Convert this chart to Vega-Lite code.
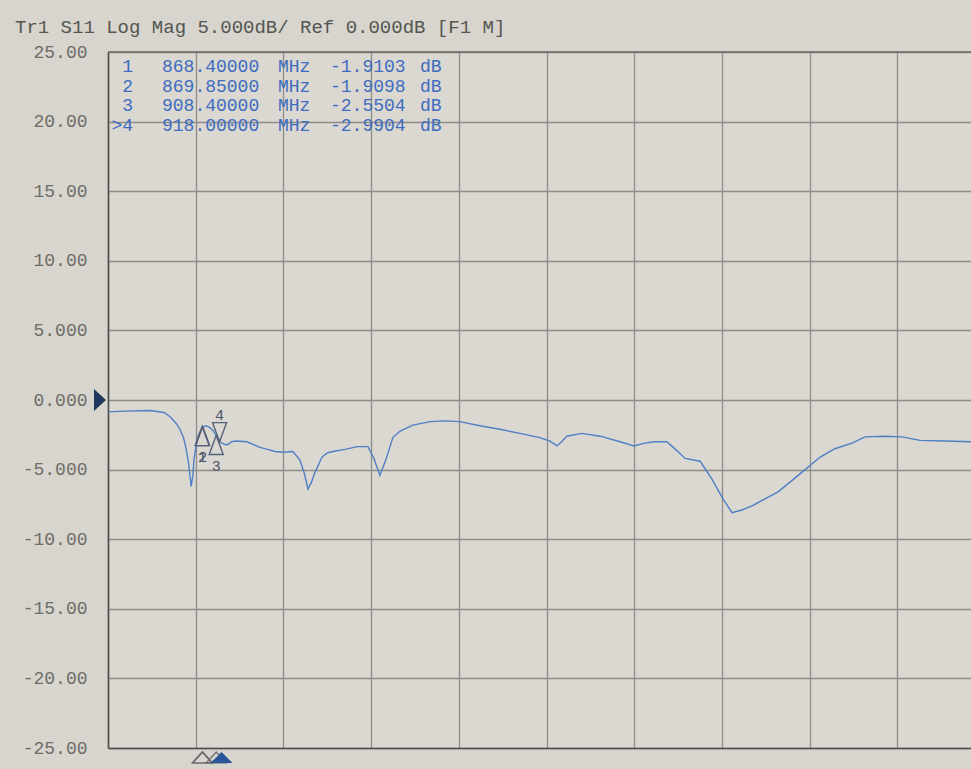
{
  "$schema": "https://vega.github.io/schema/vega-lite/v6.json",
  "width": 863,
  "height": 696,
  "autosize": "none",
  "padding": {"left": 108, "top": 52, "right": 0, "bottom": 21},
  "background": "#d7d5cd",
  "view": {"stroke": null, "fill": "#dad8d0"},
  "title": {
    "text": "Tr1 S11 Log Mag 5.000dB/ Ref 0.000dB [F1 M]",
    "anchor": "start",
    "frame": "group",
    "dx": -93,
    "offset": -9,
    "baseline": "alphabetic",
    "font": "Liberation Mono",
    "fontSize": 19,
    "fontWeight": "normal",
    "color": "#555552"
  },
  "datasets": {
    "trace": [
      {"f": 600, "db": -0.85}, {"f": 650, "db": -0.8}, {"f": 720, "db": -0.75}, {"f": 760, "db": -0.9},
      {"f": 777, "db": -1.2}, {"f": 795, "db": -1.7}, {"f": 805, "db": -2.1}, {"f": 815, "db": -2.7},
      {"f": 822, "db": -3.4}, {"f": 830, "db": -4.6}, {"f": 837, "db": -6.2}, {"f": 842, "db": -5.4},
      {"f": 845, "db": -4.3}, {"f": 851, "db": -3.3}, {"f": 857, "db": -2.6}, {"f": 864, "db": -2.2},
      {"f": 871, "db": -1.95}, {"f": 880, "db": -1.85}, {"f": 891, "db": -2.0}, {"f": 900, "db": -2.2},
      {"f": 908, "db": -2.55}, {"f": 918, "db": -2.99}, {"f": 925, "db": -3.1}, {"f": 933, "db": -3.2},
      {"f": 942, "db": -3.2}, {"f": 952, "db": -3.0}, {"f": 965, "db": -2.95}, {"f": 996, "db": -3.0},
      {"f": 1015, "db": -3.2}, {"f": 1033, "db": -3.4}, {"f": 1055, "db": -3.55}, {"f": 1076, "db": -3.7},
      {"f": 1100, "db": -3.75}, {"f": 1127, "db": -3.7}, {"f": 1147, "db": -4.3}, {"f": 1160, "db": -5.3},
      {"f": 1170, "db": -6.4}, {"f": 1180, "db": -5.9}, {"f": 1190, "db": -5.2}, {"f": 1210, "db": -4.1},
      {"f": 1225, "db": -3.8}, {"f": 1241, "db": -3.7}, {"f": 1276, "db": -3.55}, {"f": 1310, "db": -3.35},
      {"f": 1341, "db": -3.35}, {"f": 1358, "db": -4.2}, {"f": 1375, "db": -5.4}, {"f": 1392, "db": -4.3},
      {"f": 1412, "db": -2.7}, {"f": 1432, "db": -2.25}, {"f": 1469, "db": -1.8}, {"f": 1518, "db": -1.55},
      {"f": 1560, "db": -1.5}, {"f": 1603, "db": -1.55}, {"f": 1660, "db": -1.85}, {"f": 1717, "db": -2.1},
      {"f": 1774, "db": -2.4}, {"f": 1831, "db": -2.7}, {"f": 1860, "db": -2.95}, {"f": 1880, "db": -3.3},
      {"f": 1895, "db": -2.95}, {"f": 1908, "db": -2.6}, {"f": 1951, "db": -2.4}, {"f": 2003, "db": -2.6},
      {"f": 2060, "db": -3.0}, {"f": 2099, "db": -3.3}, {"f": 2130, "db": -3.1}, {"f": 2159, "db": -3.0},
      {"f": 2193, "db": -3.0}, {"f": 2220, "db": -3.6}, {"f": 2245, "db": -4.2}, {"f": 2288, "db": -4.4},
      {"f": 2322, "db": -5.7}, {"f": 2353, "db": -7.1}, {"f": 2379, "db": -8.1}, {"f": 2407, "db": -7.9},
      {"f": 2436, "db": -7.6}, {"f": 2473, "db": -7.1}, {"f": 2510, "db": -6.6}, {"f": 2544, "db": -5.9},
      {"f": 2587, "db": -5.0}, {"f": 2630, "db": -4.1}, {"f": 2672, "db": -3.5}, {"f": 2721, "db": -3.1},
      {"f": 2758, "db": -2.65}, {"f": 2815, "db": -2.6}, {"f": 2863, "db": -2.65}, {"f": 2915, "db": -2.9},
      {"f": 2986, "db": -2.95}, {"f": 3060, "db": -3.0}
    ],
    "markers": [
      {"m": "1", "f": 868.4, "db": -1.9103, "side": "below", "active": false},
      {"m": "2", "f": 869.85, "db": -1.9098, "side": "below", "active": false},
      {"m": "3", "f": 908.4, "db": -2.5504, "side": "below", "active": false},
      {"m": "4", "f": 918.0, "db": -2.9904, "side": "above", "active": true}
    ],
    "table": [
      {"row": 1, "num": "1", "freq": "868.40000", "funit": "MHz", "val": "-1.9103", "vunit": "dB"},
      {"row": 2, "num": "2", "freq": "869.85000", "funit": "MHz", "val": "-1.9098", "vunit": "dB"},
      {"row": 3, "num": "3", "freq": "908.40000", "funit": "MHz", "val": "-2.5504", "vunit": "dB"},
      {"row": 4, "num": ">4", "freq": "918.00000", "funit": "MHz", "val": "-2.9904", "vunit": "dB"}
    ],
    "ref": [{"db": 0}]
  },
  "layer": [
    {
      "layer": [
        {
          "data": {"name": "trace"},
          "mark": {"type": "line", "color": "#4f7fc4", "strokeWidth": 1.4, "interpolate": "linear"},
          "encoding": {
            "x": {
              "field": "f", "type": "quantitative",
              "scale": {"domain": [600, 3060], "nice": false, "zero": false},
              "axis": {
                "values": [600, 850, 1100, 1350, 1600, 1850, 2100, 2350, 2600, 2850],
                "labels": false, "ticks": false, "title": null,
                "domain": true, "domainColor": "#4e4e4b", "domainWidth": 1.6,
                "grid": true, "gridColor": "#8e8d89", "gridWidth": 1.3
              }
            },
            "y": {
              "field": "db", "type": "quantitative",
              "scale": {"domain": [-25, 25], "nice": false, "zero": false},
              "axis": {
                "values": [-25, -20, -15, -10, -5, 0, 5, 10, 15, 20, 25],
                "labelExpr": "(datum.value < 0 ? '-' : '') + (abs(datum.value) >= 10 ? format(abs(datum.value), '.2f') : format(abs(datum.value), '.3f'))",
                "labelFont": "Liberation Mono", "labelFontSize": 18, "labelColor": "#6e6d68",
                "labelPadding": 21, "ticks": false, "title": null,
                "domain": true, "domainColor": "#4e4e4b", "domainWidth": 1.6,
                "grid": true, "gridColor": "#8e8d89", "gridWidth": 1.3
              }
            }
          }
        },
        {
          "data": {"name": "ref"},
          "mark": {"type": "rule", "color": "#6a6a66", "strokeWidth": 1.5},
          "encoding": {"y": {"datum": 25, "type": "quantitative"}}
        },
        {
          "data": {"name": "markers"},
          "transform": [{"filter": "datum.side == 'below'"}],
          "mark": {"type": "point", "shape": "M0,0L-0.7,1.9L0.7,1.9Z", "size": 400, "filled": false, "stroke": "#55607a", "strokeWidth": 1.4, "opacity": 1},
          "encoding": {
            "x": {"field": "f", "type": "quantitative"},
            "y": {"field": "db", "type": "quantitative"}
          }
        },
        {
          "data": {"name": "markers"},
          "transform": [{"filter": "datum.side == 'above'"}],
          "mark": {"type": "point", "shape": "M0,0L-0.7,-1.9L0.7,-1.9Z", "size": 400, "filled": false, "stroke": "#55607a", "strokeWidth": 1.4, "opacity": 1},
          "encoding": {
            "x": {"field": "f", "type": "quantitative"},
            "y": {"field": "db", "type": "quantitative"}
          }
        },
        {
          "data": {"name": "markers"},
          "transform": [{"filter": "datum.side == 'below'"}],
          "mark": {"type": "text", "dy": 30, "font": "Liberation Mono", "fontSize": 15, "color": "#4d5468"},
          "encoding": {
            "x": {"field": "f", "type": "quantitative"},
            "y": {"field": "db", "type": "quantitative"},
            "text": {"field": "m"}
          }
        },
        {
          "data": {"name": "markers"},
          "transform": [{"filter": "datum.side == 'above'"}],
          "mark": {"type": "text", "dy": -27, "font": "Liberation Mono", "fontSize": 15, "color": "#4d5468"},
          "encoding": {
            "x": {"field": "f", "type": "quantitative"},
            "y": {"field": "db", "type": "quantitative"},
            "text": {"field": "m"}
          }
        },
        {
          "data": {"name": "ref"},
          "mark": {"type": "point", "shape": "M-0.2,0L-1.4,-1.1L-1.4,1.1Z", "size": 400, "filled": true, "color": "#22385f", "opacity": 1},
          "encoding": {
            "x": {"datum": 600, "type": "quantitative"},
            "y": {"field": "db", "type": "quantitative"}
          }
        },
        {
          "data": {"name": "markers"},
          "transform": [{"filter": "!datum.active"}],
          "mark": {"type": "point", "shape": "M0,0.4L-1,1.5L1,1.5Z", "size": 400, "filled": false, "stroke": "#6a6a70", "strokeWidth": 1.2, "opacity": 1},
          "encoding": {
            "x": {"field": "f", "type": "quantitative"},
            "y": {"datum": -25, "type": "quantitative"}
          }
        },
        {
          "data": {"name": "markers"},
          "transform": [{"filter": "datum.active"}],
          "mark": {"type": "point", "shape": "M0.2,0.4L-0.9,1.5L1.3,1.5Z", "size": 400, "filled": true, "color": "#2a5599", "opacity": 1},
          "encoding": {
            "x": {"field": "f", "type": "quantitative"},
            "y": {"datum": -25, "type": "quantitative"}
          }
        }
      ]
    },
    {
      "data": {"name": "table"},
      "encoding": {
        "x": {"datum": 600, "type": "quantitative"},
        "y": {"field": "row", "type": "ordinal", "scale": {"type": "point", "domain": [1, 2, 3, 4], "range": [15, 74], "padding": 0}, "axis": null}
      },
      "layer": [
        {
          "mark": {"type": "text", "align": "right", "baseline": "middle", "dx": 25, "font": "Liberation Mono", "fontSize": 18, "color": "#3e6cc0"},
          "encoding": {"text": {"field": "num"}}
        },
        {
          "mark": {"type": "text", "align": "left", "baseline": "middle", "dx": 54, "font": "Liberation Mono", "fontSize": 18, "color": "#3e6cc0"},
          "encoding": {"text": {"field": "freq"}}
        },
        {
          "mark": {"type": "text", "align": "left", "baseline": "middle", "dx": 170, "font": "Liberation Mono", "fontSize": 18, "color": "#3e6cc0"},
          "encoding": {"text": {"field": "funit"}}
        },
        {
          "mark": {"type": "text", "align": "left", "baseline": "middle", "dx": 222, "font": "Liberation Mono", "fontSize": 18, "color": "#3e6cc0"},
          "encoding": {"text": {"field": "val"}}
        },
        {
          "mark": {"type": "text", "align": "left", "baseline": "middle", "dx": 312, "font": "Liberation Mono", "fontSize": 18, "color": "#3e6cc0"},
          "encoding": {"text": {"field": "vunit"}}
        }
      ]
    }
  ],
  "resolve": {"scale": {"y": "independent"}}
}
